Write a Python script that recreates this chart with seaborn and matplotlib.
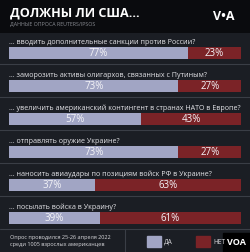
import matplotlib
matplotlib.use("Agg")
import matplotlib.pyplot as plt
import seaborn as sns
import pandas as pd

questions = [
    "... вводить дополнительные санкции против России?",
    "... заморозить активы олигархов, связанных с Путиным?",
    "... увеличить американский контингент в странах НАТО в Европе?",
    "... отправлять оружие Украине?",
    "... наносить авиаудары по позициям войск РФ в Украине?",
    "... посылать войска в Украину?",
]
yes_vals = [77, 73, 57, 73, 37, 39]
no_vals = [23, 27, 43, 27, 63, 61]
legend_labels = ["ДА", "НЕТ"]
title = "ДОЛЖНЫ ЛИ США..."
subtitle = "ДАННЫЕ ОПРОСА REUTERS/IPSOS"
footnote = "Опрос проводился 25-26 апреля 2022\nсреди 1005 взрослых американцев"

BG = "#1b1e24"
HEAD = "#0a0b0e"
BLUE = "#a1a5c4"
RED = "#7b2327"
SEP = "#3a3e46"

sns.set_theme(style="white")
plt.rcParams["font.family"] = ["Open Sans", "DejaVu Sans"]

df = pd.DataFrame({"q": questions, "yes": yes_vals, "no": no_vals})
df["total"] = df["yes"] + df["no"]

W, H = 250, 252
fig = plt.figure(figsize=(W / 100, H / 100), dpi=100, facecolor=BG)

def fx(px):
    return px / W

def fy(py):
    return 1 - py / H

# header band
hdr = fig.add_axes([0, fy(33), 1, 33 / H])
hdr.set_facecolor(HEAD)
hdr.set_xticks([]); hdr.set_yticks([])
for s in hdr.spines.values():
    s.set_visible(False)
fig.text(fx(9.5), fy(13), title, color="white", fontsize=9.1, fontweight="bold",
         va="center", ha="left")
fig.text(fx(10), fy(24.5), subtitle, color="#8a8d94", fontsize=3.8, va="center", ha="left")
fig.text(fx(224), fy(16), "V•A", color="white", fontsize=9, fontweight="bold",
         va="center", ha="center")

# bars axes
top_px, bot_px = 33, 229
c0, step = 53, 33
ax = fig.add_axes([fx(9.3), fy(bot_px), fx(241) - fx(9.3), (bot_px - top_px) / H])
ax.set_facecolor(BG)
sns.barplot(data=df, y="q", x="total", order=questions, color=RED, orient="h",
            width=0.34, ax=ax, saturation=1, linewidth=0)
sns.barplot(data=df, y="q", x="yes", order=questions, color=BLUE, orient="h",
            width=0.34, ax=ax, saturation=1, linewidth=0)
ax.set_xlim(0, 100)
ax.set_ylim((bot_px - c0) / step, (top_px - c0) / step)
ax.set_xlabel(""); ax.set_ylabel("")
ax.set_xticks([]); ax.set_yticks([])
for s in ax.spines.values():
    s.set_visible(False)

for i, (q, y, n) in enumerate(zip(questions, yes_vals, no_vals)):
    ax.text(0, i - 0.33, q, color="#e4e4e8", fontsize=5.1, va="center", ha="left")
    ax.text(y / 2, i + 0.01, f"{y}%", color="#f4f4f8", fontsize=7, va="center", ha="center")
    ax.text(y + n / 2, i + 0.01, f"{n}%", color="#f4f4f8", fontsize=7, va="center", ha="center")
    if i < len(questions) - 1:
        ax.axhline(i + 0.345, color=SEP, lw=0.8, xmin=-0.05, xmax=1.05, clip_on=False)

# footer
fig.add_artist(plt.Line2D([0, 1], [fy(229), fy(229)], color=SEP, lw=0.8))
fig.add_artist(plt.Line2D([fx(125), fx(125)], [fy(229), 0], color=SEP, lw=0.8))
fig.text(fx(10), fy(241), footnote, color="#d8d8dc", fontsize=4.0, va="center",
         ha="left", linespacing=1.3)
fig.add_artist(plt.Rectangle((fx(147), fy(247)), fx(13.5), 11 / H, color=BLUE,
                             transform=fig.transFigure))
fig.text(fx(164), fy(242), legend_labels[0], color="#d8d8dc", fontsize=4.8, va="center")
fig.add_artist(plt.Rectangle((fx(196), fy(247)), fx(13.5), 11 / H, color=RED,
                             transform=fig.transFigure))
fig.text(fx(213), fy(242), legend_labels[1], color="#d8d8dc", fontsize=4.8, va="center")
fig.add_artist(plt.Rectangle((fx(223), 0), fx(27), 19 / H, color="#000000",
                             transform=fig.transFigure))
fig.text(fx(236.5), fy(242.5), "VOA", color="white", fontsize=6.5, fontweight="bold",
         va="center", ha="center")

fig.savefig("out.png", dpi=100, facecolor=BG)
